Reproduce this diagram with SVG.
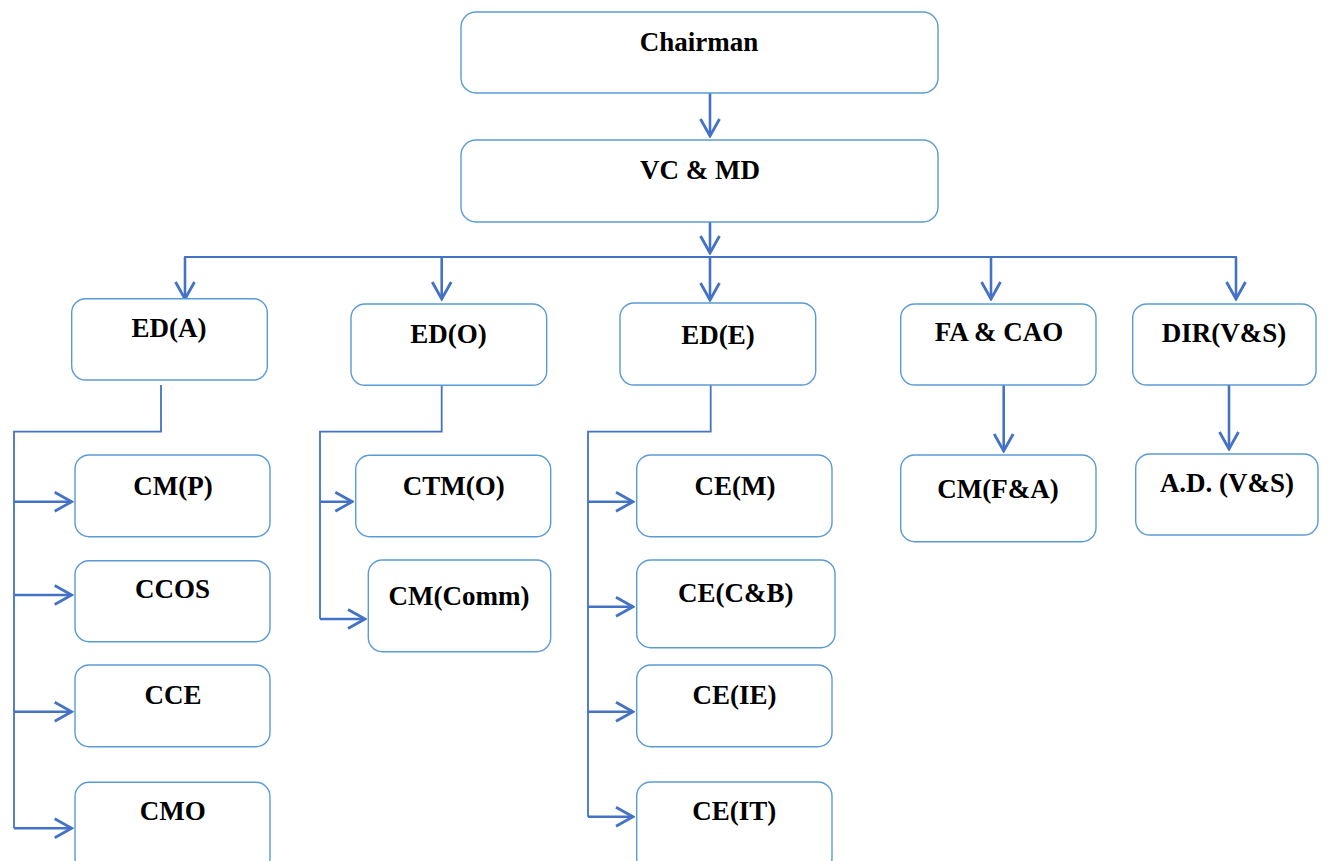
<svg xmlns="http://www.w3.org/2000/svg" width="1329" height="861" viewBox="0 0 1329 861">
<style>
.box{fill:#fff;stroke:#5b9bd5;stroke-width:1.4}
.t{font-family:"Liberation Serif","Times New Roman",serif;font-weight:bold;font-size:27px;fill:#000;text-anchor:middle}
.c{fill:none;stroke:#4472c4;stroke-width:2.6}
.thin{fill:none;stroke:#4472c4;stroke-width:1.8}
</style>
<defs>
<marker id="ah" markerUnits="userSpaceOnUse" viewBox="-20 -12 22 24" refX="0" refY="0" markerWidth="22" markerHeight="24" orient="auto">
<path d="M-17,-9.5 L0,0 L-17,9.5" fill="none" stroke="#4472c4" stroke-width="2.8"/>
</marker>
</defs>
<rect width="1329" height="861" fill="#fff"/>
<g id="connectors">
<line class="c" x1="710" y1="93" x2="710" y2="136" marker-end="url(#ah)"/>
<line class="c" x1="710" y1="222" x2="710" y2="253" marker-end="url(#ah)"/>
<polyline class="thin" points="185,299 185,257 1236,257 1236,299"/>
<line class="c" x1="185" y1="257" x2="185" y2="299" marker-end="url(#ah)"/>
<line class="c" x1="441.7" y1="257" x2="441.7" y2="299" marker-end="url(#ah)"/>
<line class="c" x1="710" y1="257" x2="710" y2="300" marker-end="url(#ah)"/>
<line class="c" x1="991" y1="257" x2="991" y2="299" marker-end="url(#ah)"/>
<line class="c" x1="1236" y1="257" x2="1236" y2="299" marker-end="url(#ah)"/>
<line class="c" x1="1003.7" y1="385" x2="1003.7" y2="451" marker-end="url(#ah)"/>
<line class="c" x1="1229" y1="384" x2="1229" y2="449" marker-end="url(#ah)"/>
<polyline class="thin" points="161,385 161,431.7 14,431.7 14,828.3"/>
<line class="c" x1="14" y1="501.7" x2="71.7" y2="501.7" marker-end="url(#ah)"/>
<line class="c" x1="14" y1="595" x2="71.7" y2="595" marker-end="url(#ah)"/>
<line class="c" x1="14" y1="711.7" x2="71.7" y2="711.7" marker-end="url(#ah)"/>
<line class="c" x1="14" y1="828.3" x2="71.7" y2="828.3" marker-end="url(#ah)"/>
<polyline class="thin" points="441.7,385 441.7,431.7 320,431.7 320,619"/>
<line class="c" x1="320" y1="501.7" x2="352.3" y2="501.7" marker-end="url(#ah)"/>
<line class="c" x1="320" y1="619" x2="365" y2="619" marker-end="url(#ah)"/>
<polyline class="thin" points="710.7,385 710.7,431.7 588,431.7 588,816.7"/>
<line class="c" x1="588" y1="501.7" x2="633" y2="501.7" marker-end="url(#ah)"/>
<line class="c" x1="588" y1="606.7" x2="633" y2="606.7" marker-end="url(#ah)"/>
<line class="c" x1="588" y1="711.7" x2="633" y2="711.7" marker-end="url(#ah)"/>
<line class="c" x1="588" y1="816.7" x2="633" y2="816.7" marker-end="url(#ah)"/>
</g>
<g id="chairman"><rect class="box" x="461" y="12" width="477" height="81" rx="15"/><text class="t" x="699" y="51">Chairman</text></g>
<g id="vcmd"><rect class="box" x="461" y="140" width="477" height="82" rx="15"/><text class="t" x="700" y="179">VC &amp; MD</text></g>
<g id="eda"><rect class="box" x="71.7" y="298.7" width="195.6" height="81.3" rx="14"/><text class="t" x="169" y="337">ED(A)</text></g>
<g id="edo"><rect class="box" x="351" y="304" width="195.7" height="81.3" rx="14"/><text class="t" x="448.5" y="343">ED(O)</text></g>
<g id="ede"><rect class="box" x="620" y="303" width="195.7" height="82" rx="14"/><text class="t" x="718" y="344">ED(E)</text></g>
<g id="facao"><rect class="box" x="900.7" y="304" width="195.3" height="81" rx="14"/><text class="t" x="999" y="341">FA &amp; CAO</text></g>
<g id="dirvs"><rect class="box" x="1132.7" y="304" width="183.3" height="81" rx="14"/><text class="t" x="1224" y="342">DIR(V&amp;S)</text></g>
<g id="cmp"><rect class="box" x="75" y="455" width="195" height="81.7" rx="14"/><text class="t" x="173" y="495">CM(P)</text></g>
<g id="ccos"><rect class="box" x="75" y="560.7" width="195" height="81" rx="14"/><text class="t" x="172.5" y="598.3">CCOS</text></g>
<g id="cce"><rect class="box" x="75" y="665" width="195" height="81.7" rx="14"/><text class="t" x="173" y="704">CCE</text></g>
<g id="cmo"><rect class="box" x="75" y="782.3" width="195" height="90" rx="14"/><text class="t" x="172.8" y="820">CMO</text></g>
<g id="ctmo"><rect class="box" x="355.7" y="455.3" width="195" height="81.4" rx="14"/><text class="t" x="453.7" y="495">CTM(O)</text></g>
<g id="cmcomm"><rect class="box" x="368.3" y="560" width="182.4" height="91.7" rx="14"/><text class="t" x="459" y="605">CM(Comm)</text></g>
<g id="cem"><rect class="box" x="636.7" y="455" width="195.3" height="81.7" rx="14"/><text class="t" x="735" y="495">CE(M)</text></g>
<g id="cecb"><rect class="box" x="636.7" y="560" width="198.3" height="87.7" rx="14"/><text class="t" x="735.8" y="601.7">CE(C&amp;B)</text></g>
<g id="ceie"><rect class="box" x="636.7" y="665" width="195.3" height="81.7" rx="14"/><text class="t" x="734.5" y="704">CE(IE)</text></g>
<g id="ceit"><rect class="box" x="636.7" y="782" width="195.3" height="90" rx="14"/><text class="t" x="734.3" y="820">CE(IT)</text></g>
<g id="cmfa"><rect class="box" x="900.7" y="455" width="195.3" height="86.7" rx="14"/><text class="t" x="998" y="498">CM(F&amp;A)</text></g>
<g id="advs"><rect class="box" x="1135.7" y="454" width="182.3" height="81" rx="14"/><text class="t" x="1227" y="492">A.D. (V&amp;S)</text></g>
</svg>
